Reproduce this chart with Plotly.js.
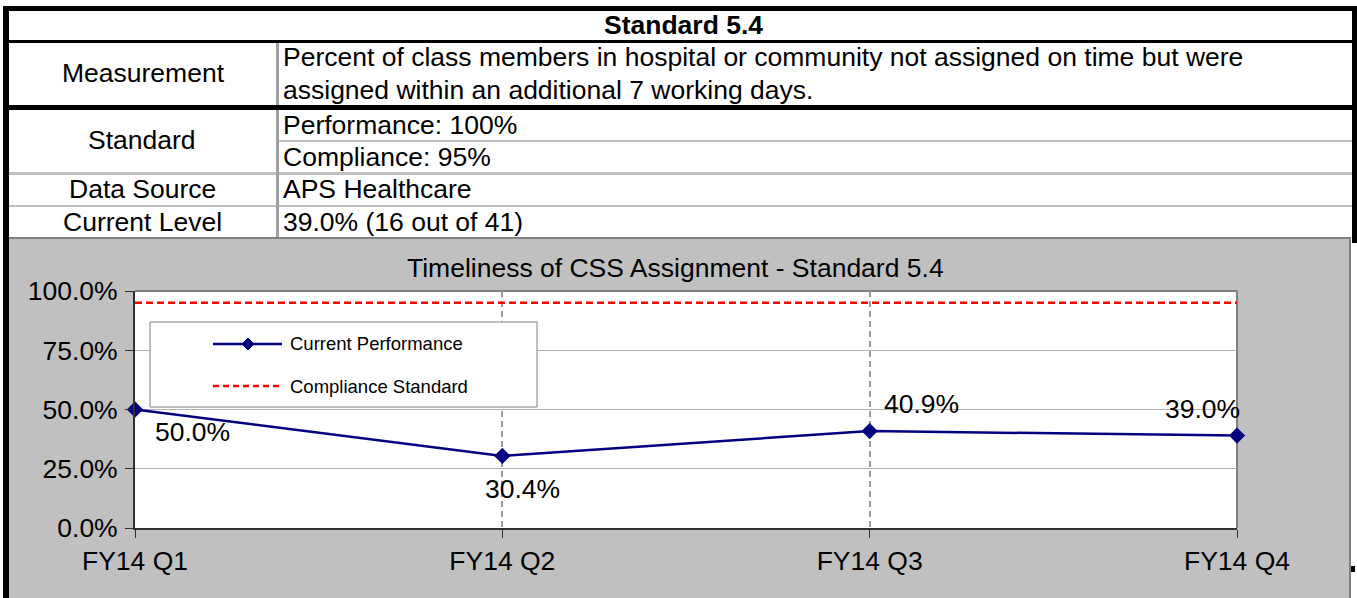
<!DOCTYPE html>
<html>
<head>
<meta charset="utf-8">
<script src="https://cdn.plot.ly/plotly-3.0.1.min.js"></script>
<style>
  html, body { margin: 0; padding: 0; background: #ffffff; }
  #chart { width: 1357px; height: 598px; }
</style>
</head>
<body>
<div id="chart"></div>
<script>
// ---- Data ----
const quarters = ["FY14 Q1", "FY14 Q2", "FY14 Q3", "FY14 Q4"];
const currentPerformance = [0.500, 0.304, 0.409, 0.390];
const complianceStandard = [0.95, 0.95, 0.95, 0.95];
const yTickValues = [0, 0.25, 0.5, 0.75, 1.0];
const seriesNames = ["Current Performance", "Compliance Standard"];
const chartTitle = "Timeliness of CSS Assignment - Standard 5.4";

const tableTitle = "Standard 5.4";
const tableLabels = ["Measurement", "Standard", "Data Source", "Current Level"];
const measurementLines = [
  "Percent of class members in hospital or community not assigned on time but were",
  "assigned within an additional 7 working days."
];
const standardLines = ["Performance: 100%", "Compliance: 95%"];
const dataSourceText = "APS Healthcare";
const currentLevelText = "39.0% (16 out of 41)";

// ---- Geometry helpers (pixel -> paper) ----
const W = 1357, H = 598;
const px = x => x / W;
const py = y => 1 - y / H;
const FONT = "Liberation Sans, Arial, sans-serif";
const FS = 26.5;

function rect(x0, y0, x1, y1, fill, layer) {
  return { type: "rect", xref: "paper", yref: "paper",
    x0: px(x0), x1: px(x1), y0: py(y1), y1: py(y0),
    fillcolor: fill, line: { width: 0 }, layer: layer || "above" };
}
function hline(x0, x1, y, color, width, layer, dash) {
  return { type: "line", xref: "paper", yref: "paper",
    x0: px(x0), x1: px(x1), y0: py(y), y1: py(y),
    line: { color: color, width: width, dash: dash || "solid" }, layer: layer || "above" };
}
function vline(x, y0, y1, color, width, layer) {
  return { type: "line", xref: "paper", yref: "paper",
    x0: px(x), x1: px(x), y0: py(y0), y1: py(y1),
    line: { color: color, width: width }, layer: layer || "above" };
}
function txt(x, y, text, size, anchor, bold) {
  return { xref: "paper", yref: "paper", x: px(x), y: py(y),
    text: bold ? "<b>" + text + "</b>" : text, showarrow: false,
    xanchor: anchor || "center", yanchor: "middle",
    font: { family: FONT, size: size, color: "#000000" } };
}

const shapes = [
  // chart region background
  rect(9, 238, 1351, 598, "#C0C0C0", "below"),
  rect(135, 291, 1237, 528, "#FFFFFF", "below"),
  hline(9, 1351, 238, "#808080", 2, "below"),
  vline(1350, 238, 598, "#808080", 2, "below"),
  // plot area top/right borders
  hline(135, 1237, 291, "#808080", 2, "below"),
  vline(1237, 291, 528, "#808080", 2, "below"),

  // table lines
  rect(3, 6, 1357, 11, "#000000"),
  rect(3, 6, 9, 598, "#000000"),
  rect(1352, 6, 1357, 243, "#000000"),
  rect(1351, 566, 1355, 572, "#000000"),
  rect(9, 40, 1352, 43, "#000000"),
  rect(9, 105, 1352, 110, "#000000"),
  rect(276, 43, 279, 105, "#A0A0A0"),
  rect(276, 110, 279, 237, "#A0A0A0"),
  rect(279, 140, 1352, 142, "#C0C0C0"),
  rect(9, 172, 1352, 175, "#C0C0C0"),
  rect(9, 205, 1352, 207, "#C0C0C0"),
  rect(276, 172, 279, 175, "#A0A0A0"),
  rect(276, 205, 279, 207, "#A0A0A0"),

  // custom legend box
  { type: "rect", xref: "paper", yref: "paper",
    x0: px(150), x1: px(537), y0: py(407), y1: py(322),
    fillcolor: "#FFFFFF", line: { color: "#808080", width: 1 }, layer: "above" },
  hline(213, 282, 344, "#000080", 2.5),
  { type: "path", xref: "paper", yref: "paper", layer: "above",
    path: "M " + px(248) + "," + py(338) + " L " + px(254) + "," + py(344) +
          " L " + px(248) + "," + py(350) + " L " + px(242) + "," + py(344) + " Z",
    fillcolor: "#000080", line: { color: "#000080", width: 1 } },
  hline(213, 282, 386, "#FF0000", 2.5, "above", "6px,4px")
];

const annotations = [
  txt(683, 25, tableTitle, FS, "center", true),
  txt(143, 73, tableLabels[0], FS),
  txt(281, 57, measurementLines[0], FS, "left"),
  txt(281, 90, measurementLines[1], FS, "left"),
  txt(142, 140, tableLabels[1], FS),
  txt(281, 125, standardLines[0], FS, "left"),
  txt(281, 157, standardLines[1], FS, "left"),
  txt(142, 189, tableLabels[2], FS),
  txt(281, 189, dataSourceText, FS, "left"),
  txt(142, 222, tableLabels[3], FS),
  txt(281, 222, currentLevelText, FS, "left"),
  txt(675, 268, chartTitle, FS),
  txt(288, 344, seriesNames[0], 18.5, "left"),
  txt(288, 386, seriesNames[1], 18.5, "left")
];

// data labels, positioned from the data through the axes
const labelShifts = [[57, -22], [20, -33], [52, 27], [-35, 27]];
currentPerformance.forEach((v, i) => {
  annotations.push({
    xref: "x", yref: "y", x: quarters[i], y: v,
    text: (v * 100).toFixed(1) + "%", showarrow: false,
    xshift: labelShifts[i][0], yshift: labelShifts[i][1],
    font: { family: FONT, size: FS, color: "#000000" }
  });
});

const traces = [
  {
    type: "scatter", mode: "lines", name: seriesNames[1],
    x: quarters, y: complianceStandard,
    line: { color: "#FF0000", width: 2.5, dash: "7px,4px" },
    hoverinfo: "skip", showlegend: false
  },
  {
    type: "scatter", mode: "lines+markers", name: seriesNames[0],
    x: quarters, y: currentPerformance,
    line: { color: "#000080", width: 2.5 },
    marker: { symbol: "diamond", size: 12.5, color: "#000080" },
    cliponaxis: false, showlegend: false
  }
];

const layout = {
  width: W, height: H,
  margin: { l: 0, r: 0, t: 0, b: 0, pad: 0 },
  paper_bgcolor: "#FFFFFF",
  plot_bgcolor: "rgba(0,0,0,0)",
  showlegend: false,
  font: { family: FONT, size: FS, color: "#000000" },
  xaxis: {
    type: "category", domain: [px(135), px(1237)],
    range: [0, 3], fixedrange: true,
    showgrid: true, gridcolor: "#999999", gridwidth: 2, griddash: "6px,4px",
    showline: true, linecolor: "#303030", linewidth: 2,
    ticks: "outside", ticklen: 8, tickcolor: "#303030", tickwidth: 1,
    ticklabelstandoff: 0,
    tickfont: { family: FONT, size: FS, color: "#000000" },
    zeroline: false
  },
  yaxis: {
    domain: [py(528), py(291)], range: [0, 1], fixedrange: true,
    tickvals: yTickValues, tickformat: ".1%",
    showgrid: true, gridcolor: "#B0B0B0", gridwidth: 1,
    showline: true, linecolor: "#303030", linewidth: 2,
    ticks: "outside", ticklen: 8, tickcolor: "#303030", tickwidth: 1,
    ticklabelstandoff: 2,
    tickfont: { family: FONT, size: FS, color: "#000000" },
    zeroline: false
  },
  shapes: shapes,
  annotations: annotations
};

Plotly.newPlot("chart", traces, layout, { displayModeBar: false, staticPlot: true });
</script>
</body>
</html>
